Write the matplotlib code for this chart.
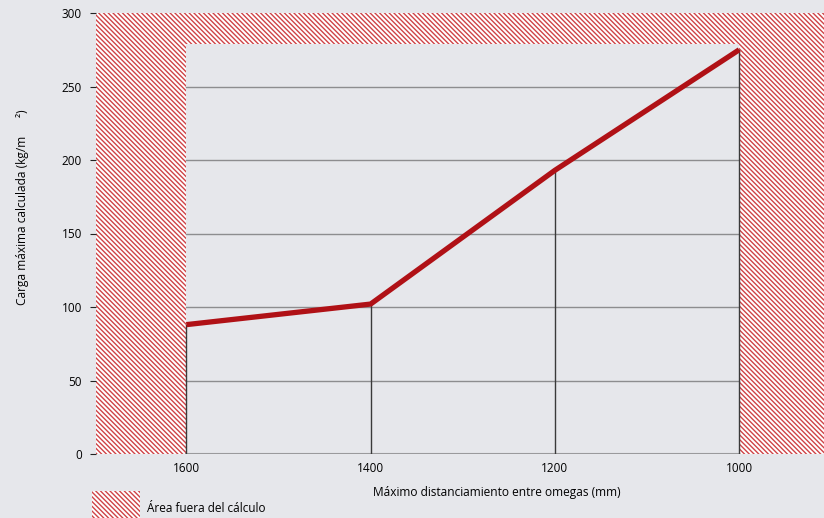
import matplotlib
matplotlib.use("Agg")
import matplotlib.pyplot as plt
from matplotlib.patches import Rectangle

plt.rcParams['font.family'] = ['Open Sans', 'DejaVu Sans']
plt.rcParams['hatch.linewidth'] = 1.0

# Data
distances = [1600, 1400, 1200, 1000]
loads = [88, 102, 193, 275]
y_ticks = [0, 50, 100, 150, 200, 250, 300]
x_ticks = [1600, 1400, 1200, 1000]
x_label = "Máximo distanciamiento entre omegas (mm)"
y_label = "Carga máxima calculada (kg/m      ²)"
legend_label = "Área fuera del cálculo"

BG = "#e6e7eb"
RED_LINE = "#b01116"
HATCH_RED = "#cf4347"
HATCH = "\\" * 7

W, H = 824, 518
fig = plt.figure(figsize=(W / 100, H / 100), dpi=100, facecolor=BG)
ax = fig.add_axes([96 / W, (H - 454) / H, (W - 96) / W, (454 - 13) / H])
ax.set_facecolor(BG)

xmin, xmax = 1698, 908
ax.set_xlim(xmin, xmax)
ax.set_ylim(0, 300)

# hatched out-of-calculation area
top_band = 279
hkw = dict(facecolor="white", edgecolor=HATCH_RED, hatch=HATCH, linewidth=0, zorder=1)
ax.add_patch(Rectangle((1600, 0), xmin - 1600, 300, **hkw))
ax.add_patch(Rectangle((xmax, top_band), 1600 - xmax, 300 - top_band, **hkw))
ax.add_patch(Rectangle((xmax, 0), 1000 - xmax, top_band, **hkw))

# horizontal grid lines
for yv in y_ticks:
    if 0 < yv < top_band:
        ax.plot([1600, 1000], [yv, yv], color="#8d8d8f", lw=1.0, zorder=2)
ax.plot([1600, 1000], [0, 0], color="#9a9a9c", lw=1.5, zorder=2)

# vertical drop lines
for xv, yv in zip(distances, loads):
    ax.plot([xv, xv], [0, yv], color="#3a3a3a", lw=1.0, zorder=3)

ax.plot(distances, loads, color=RED_LINE, lw=3.8, solid_capstyle="butt", zorder=4)

for s in ax.spines.values():
    s.set_visible(False)

ax.set_yticks(y_ticks)
ax.set_yticklabels([str(v) for v in y_ticks])
ax.set_xticks(x_ticks)
ax.set_xticklabels([str(v) for v in x_ticks])
ax.tick_params(axis="y", length=4, width=0.8, pad=6, labelsize=8.5, color="#222222")
ax.tick_params(axis="x", length=0, pad=6, labelsize=8.5)

ax.set_xlabel(x_label, fontsize=8.6)
ax.xaxis.set_label_coords((497 - 96) / (W - 96), -0.072)
ax.set_ylabel(y_label, fontsize=8.6)
ax.yaxis.set_label_coords((29 - 96) / (W - 96), (454 - 207) / (454 - 13))

# legend
fig.add_artist(Rectangle((92 / W, 0), 48 / W, 27 / H, transform=fig.transFigure,
                         facecolor="white", edgecolor=HATCH_RED, hatch=HATCH, linewidth=0))
fig.text(147 / W, 1 - 508 / H, legend_label, fontsize=8.5, va="center", ha="left")

fig.savefig("out.png", dpi=100, facecolor=BG)
